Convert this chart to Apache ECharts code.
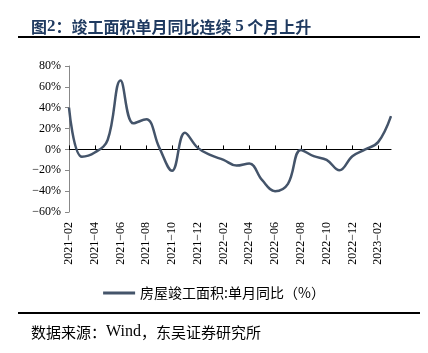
<!DOCTYPE html>
<html>
<head>
<meta charset="utf-8">
<script src="https://cdn.jsdelivr.net/npm/echarts@6/dist/echarts.min.js"></script>
<style>
  html, body { margin: 0; padding: 0; background: #fff; }
  #chart { width: 428px; height: 353px; }
</style>
</head>
<body>
<div id="chart"></div>
<script>
// 月份（横轴）
const months = [
    '2021-02', '2021-03', '2021-04', '2021-05', '2021-06', '2021-07', '2021-08',
    '2021-09', '2021-10', '2021-11', '2021-12', '2022-01', '2022-02', '2022-03',
    '2022-04', '2022-05', '2022-06', '2022-07', '2022-08', '2022-09', '2022-10',
    '2022-11', '2022-12', '2023-01', '2023-02', '2023-03'
];

// 房屋竣工面积:单月同比（%）
const completionYoY = [
    40, -7, -3, 9, 66, 25, 29, 2, -20.5, 16, 1.5, -5.5, -10, -15.5,
    -13.5, -29.5, -40, -33, -0.5, -6.5, -10, -20, -6.5, 0, 7, 32
];

// 纵轴刻度
const yTicks = [-60, -40, -20, 0, 20, 40, 60, 80];

const seriesName = '房屋竣工面积:单月同比（%）';
const serif = 'Liberation Serif, Times New Roman, serif';
const cjk = 'Noto Sans CJK SC';
const titleColor = '#1f3a60';

const chart = echarts.init(document.getElementById('chart'));

chart.setOption({
    animation: false,
    title: [
        {
            text: '{c|图}{d|2}{c|：竣工面积单月同比连续 }{d|5}{c| 个月上升}',
            left: 26,
            top: 13,
            textStyle: {
                rich: {
                    c: { fontFamily: cjk, fontSize: 16, fontWeight: 'bold', color: titleColor },
                    d: { fontFamily: serif, fontSize: 17, fontWeight: 'bold', color: titleColor }
                }
            }
        },
        {
            text: '{c|数据来源：}{w|Wind}{c|，东吴证券研究所}',
            left: 26,
            top: 319,
            textStyle: {
                fontWeight: 'normal',
                rich: {
                    c: { fontFamily: cjk, fontSize: 15, fontWeight: 'normal', color: '#000' },
                    w: { fontFamily: serif, fontSize: 16, fontWeight: 'normal', color: '#000' }
                }
            }
        }
    ],
    graphic: [
        { type: 'line', shape: { x1: 18, y1: 37, x2: 420, y2: 37 }, style: { stroke: '#000', lineWidth: 2 } },
        { type: 'line', shape: { x1: 18, y1: 313, x2: 420, y2: 313 }, style: { stroke: '#000', lineWidth: 2 } }
    ],
    legend: {
        data: [seriesName],
        top: 281,
        left: 'center',
        itemWidth: 32,
        itemHeight: 3,
        itemGap: 4,
        icon: 'rect',
        textStyle: { fontFamily: cjk, fontSize: 14, color: '#000' }
    },
    grid: { left: 69, right: 37, top: 66, height: 146 },
    xAxis: [
        {
            type: 'category',
            data: months,
            boundaryGap: false,
            position: 'bottom',
            axisLine: { show: false, onZero: false },
            axisTick: { show: false },
            axisLabel: {
                interval: 1,
                rotate: 90,
                margin: 10,
                fontFamily: serif,
                fontSize: 12,
                color: '#000',
                formatter: v => v.replace('-', '−')
            }
        },
        {
            type: 'category',
            data: months,
            boundaryGap: false,
            position: 'bottom',
            axisLine: { show: true, onZero: true, lineStyle: { color: '#000', width: 1.2 } },
            axisTick: { show: true, inside: true, interval: 1, length: 4, lineStyle: { color: '#000' } },
            axisLabel: { show: false }
        }
    ],
    yAxis: {
        type: 'value',
        min: yTicks[0],
        max: yTicks[yTicks.length - 1],
        interval: 20,
        axisLine: { show: true, lineStyle: { color: '#888' } },
        axisTick: { show: true, length: 4, lineStyle: { color: '#888' } },
        splitLine: { show: false },
        axisLabel: {
            margin: 8,
            fontFamily: serif,
            fontSize: 12,
            color: '#000',
            formatter: v => String(v).replace('-', '−') + '%'
        }
    },
    series: [
        {
            name: seriesName,
            type: 'line',
            data: completionYoY,
            smooth: 0.4,
            showSymbol: false,
            lineStyle: { color: '#44546a', width: 2.5 },
            itemStyle: { color: '#44546a' }
        }
    ]
});
</script>
</body>
</html>
